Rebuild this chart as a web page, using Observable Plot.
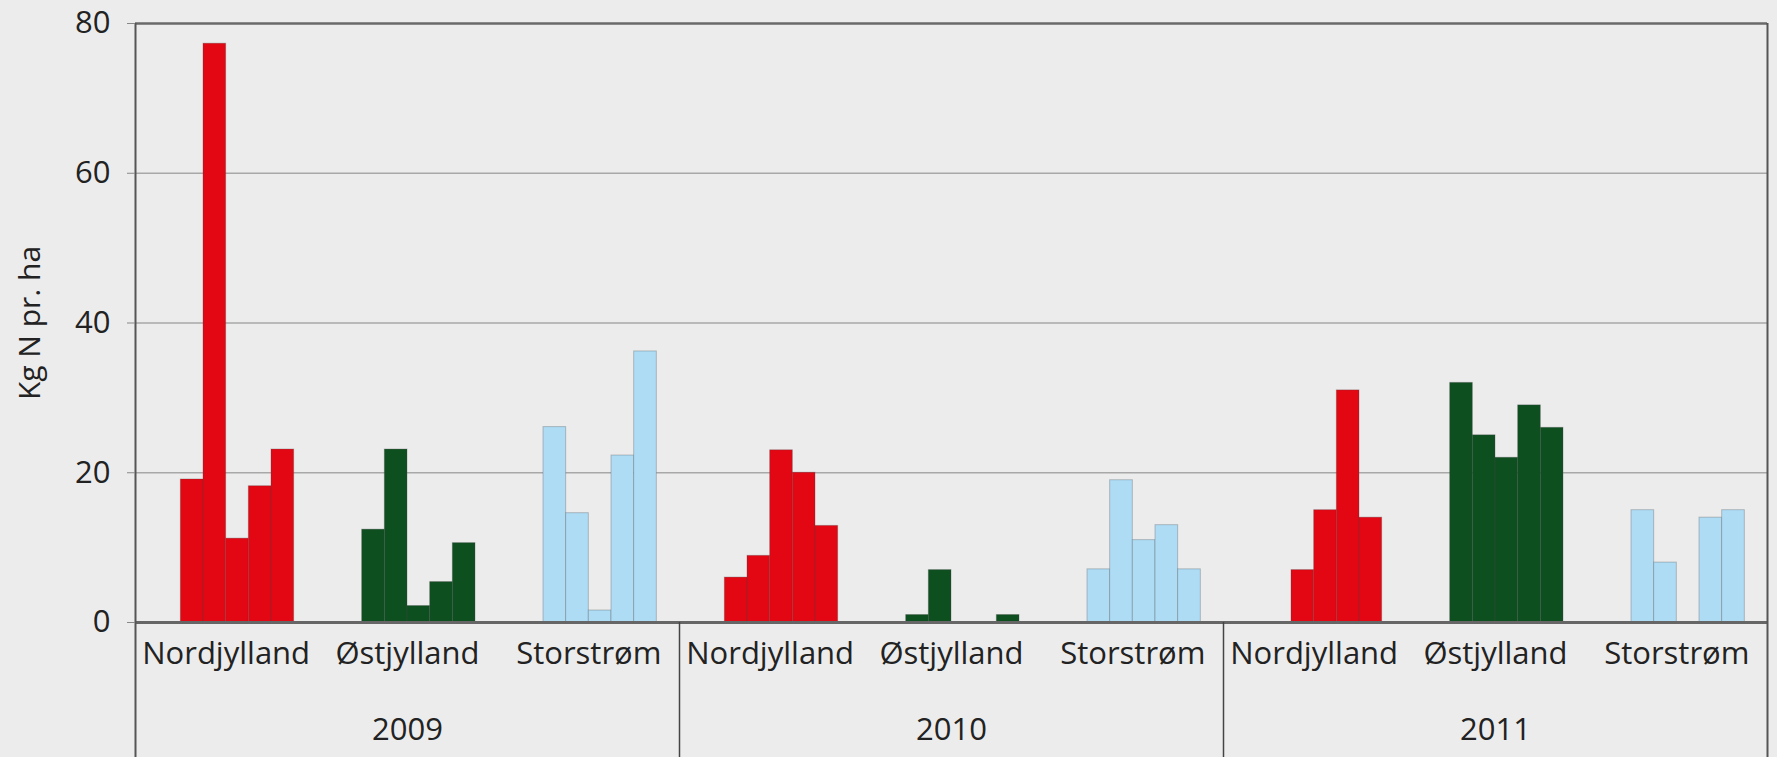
<!DOCTYPE html>
<html>
<head>
<meta charset="utf-8">
<script src="https://cdn.jsdelivr.net/npm/d3@7"></script>
<script src="https://cdn.jsdelivr.net/npm/@observablehq/plot@0.6"></script>
<style>
  html, body { margin: 0; padding: 0; background: #ececec; }
  #chart svg { display: block; }
</style>
</head>
<body>
<div id="chart"></div>
<script>
// ---- data ----
const years = ["2009", "2010", "2011"];
const regions = ["Nordjylland", "Østjylland", "Storstrøm"];
// five bars per region and year (0 = no bar)
const nordjylland = [
  [19.1, 77.3, 11.2, 18.2, 23.1],
  [6.0, 8.9, 23.0, 20.0, 12.9],
  [0, 7.0, 15.0, 31.0, 14.0]
];
const ostjylland = [
  [12.4, 23.1, 2.2, 5.4, 10.6],
  [1.0, 7.0, 0, 0, 1.0],
  [32.0, 25.0, 22.0, 29.0, 26.0]
];
const storstrom = [
  [26.1, 14.6, 1.6, 22.3, 36.2],
  [7.1, 19.0, 11.0, 13.0, 7.1],
  [15.0, 8.0, 0, 14.0, 15.0]
];
const yTicks = [0, 20, 40, 60, 80];
const yLabel = "Kg N pr. ha";
const regionColors = ["#e30613", "#0e4f20", "#aedcf5"];

// ---- layout ----
const W = 1777, H = 757;
const mL = 135, mR = 10, mT = 23, mB = 135;
const slotsPerGroup = 8, barOffset = 2;
const seriesByRegion = [nordjylland, ostjylland, storstrom];

const bars = [];
years.forEach((yr, yi) => {
  regions.forEach((rg, ri) => {
    seriesByRegion[ri][yi].forEach((v, bi) => {
      const g = yi * regions.length + ri;
      bars.push({year: yr, region: rg, value: v, slot: g * slotsPerGroup + barOffset + bi});
    });
  });
});
const regionLabels = [];
years.forEach((yr, yi) => regions.forEach((rg, ri) => {
  const g = yi * regions.length + ri;
  regionLabels.push({text: rg, x: g * slotsPerGroup + slotsPerGroup / 2});
}));
const groupSpan = regions.length * slotsPerGroup;
const yearLabels = years.map((yr, yi) => ({text: yr, x: yi * groupSpan + groupSpan / 2}));
const totalSlots = years.length * groupSpan;
const yearBounds = d3.range(years.length + 1).map(i => i * groupSpan);

const chart = Plot.plot({
  width: W, height: H,
  marginLeft: mL, marginRight: mR, marginTop: mT, marginBottom: mB,
  style: {fontFamily: "'Open Sans', sans-serif", background: "#ececec", color: "#222"},
  x: {domain: [0, totalSlots], axis: null},
  y: {domain: [0, 80], axis: null},
  color: {domain: regions, range: regionColors},
  marks: [
    Plot.ruleY([20, 40, 60], {stroke: "#a8a8a8", strokeWidth: 1.5}),
    Plot.rectY(bars.filter(d => d.value > 0), {
      x1: "slot", x2: d => d.slot + 1, y: "value", fill: "region",
      stroke: "#444", strokeOpacity: 0.3, strokeWidth: 1
    }),
    Plot.ruleY([80], {stroke: "#6a6a6a", strokeWidth: 2.5}),
    Plot.ruleY([0], {stroke: "#666", strokeWidth: 3}),
    Plot.ruleX([0, totalSlots], {stroke: "#555", strokeWidth: 2, insetBottom: -mB}),
    Plot.ruleX(yearBounds.slice(1, -1), {stroke: "#444", strokeWidth: 1.5, insetTop: H - mT - mB, insetBottom: -mB}),
    Plot.axisY({ticks: yTicks, tickSize: 8, tickPadding: 17, fontSize: 31, stroke: "#888", fill: "#222", label: null}),
    Plot.text(regionLabels, {x: "x", y: () => 0, text: "text", dy: 32, fontSize: 31, fill: "#222"}),
    Plot.text(yearLabels, {x: "x", y: () => 0, text: "text", dy: 108, fontSize: 31, fill: "#222"}),
    Plot.text([yLabel], {frameAnchor: "left", textAnchor: "middle", lineAnchor: "middle", text: d => d, rotate: -90, dx: -105, fontSize: 30, fill: "#222"})
  ]
});
document.getElementById("chart").appendChild(chart);
</script>
</body>
</html>
